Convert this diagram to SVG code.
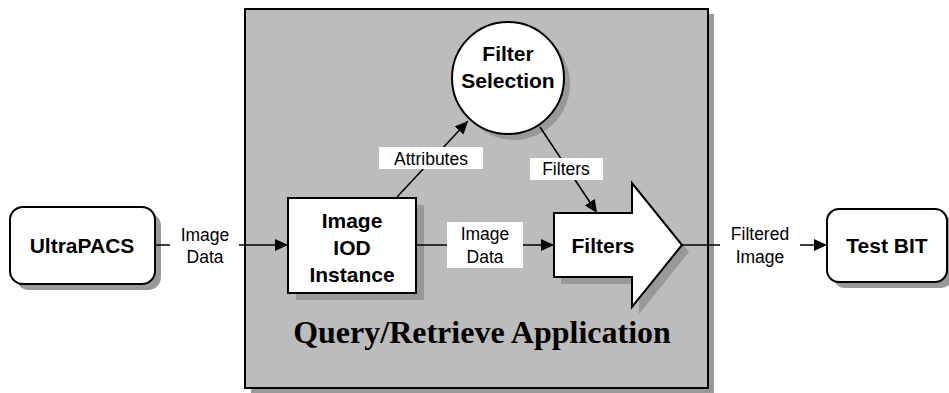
<svg xmlns="http://www.w3.org/2000/svg" width="949" height="393" viewBox="0 0 949 393">
<defs>
<marker id="ah" markerUnits="userSpaceOnUse" markerWidth="14" markerHeight="12" refX="13" refY="6" orient="auto">
<path d="M0,0 L13,6 L0,12 z" fill="#000"/>
</marker>
<style>
.node{fill:#fff;stroke:#000;stroke-width:2}
.sh{fill:#999;stroke:none}
.big{font-family:"Liberation Sans",Arial,sans-serif;font-weight:bold;font-size:21px;text-anchor:middle;fill:#000}
.lbl{font-family:"Liberation Sans",Arial,sans-serif;font-size:17.5px;text-anchor:middle;fill:#000}
.lb{fill:#fff;stroke:none}
.ln{stroke:#000;stroke-width:1.5;fill:none}
</style>
</defs>
<g id="app">
<rect x="251" y="14" width="463" height="380" fill="#999"/>
<rect x="245" y="9" width="463" height="379" fill="#bcbcbc" stroke="#000" stroke-width="2"/>
<text x="482" y="343" font-family="Liberation Serif,'Times New Roman',serif" font-weight="bold" font-size="32" text-anchor="middle">Query/Retrieve Application</text>
</g>
<g id="ultrapacs">
<rect class="sh" x="16" y="213" width="145" height="77" rx="13"/>
<rect class="node" x="10" y="207" width="145" height="77" rx="13"/>
<text class="big" x="82" y="252.5">UltraPACS</text>
</g>
<g id="iod">
<rect class="sh" x="296" y="205" width="128" height="95"/>
<rect class="node" x="288" y="198" width="128" height="95"/>
<text class="big" x="352" y="228">Image</text>
<text class="big" x="352" y="255">IOD</text>
<text class="big" x="352" y="282">Instance</text>
</g>
<g id="filtersel">
<circle class="sh" cx="514" cy="84" r="56"/>
<circle class="node" cx="508" cy="78" r="56"/>
<text class="big" x="508" y="60.5">Filter</text>
<text class="big" x="508" y="87.5">Selection</text>
</g>
<g id="filters">
<polygon class="sh" points="561,220 639,220 639,190 689,252 639,314 639,284 561,284"/>
<polygon class="node" points="554,213 632,213 632,183 682,245 632,307 632,277 554,277"/>
<text class="big" x="603" y="252.5">Filters</text>
</g>
<g id="testbit">
<rect class="sh" x="833" y="215" width="120" height="73" rx="12"/>
<rect class="node" x="827" y="209" width="120" height="73" rx="12"/>
<text class="big" x="887" y="252.5">Test BIT</text>
</g>
<g id="connectors">
<line class="ln" x1="155" y1="245" x2="170" y2="245"/>
<line class="ln" x1="239" y1="245" x2="288" y2="245" marker-end="url(#ah)"/>
<text class="lbl" x="205" y="241">Image</text>
<text class="lbl" x="205" y="263">Data</text>
<line class="ln" x1="416" y1="245" x2="554" y2="245" marker-end="url(#ah)"/>
<rect class="lb" x="447" y="222" width="76" height="46"/>
<text class="lbl" x="485" y="240">Image</text>
<text class="lbl" x="485" y="263">Data</text>
<line class="ln" x1="397" y1="197" x2="468" y2="121" marker-end="url(#ah)"/>
<rect class="lb" x="379" y="147" width="104" height="22"/>
<text class="lbl" x="431" y="165">Attributes</text>
<line class="ln" x1="540" y1="127" x2="597" y2="213" marker-end="url(#ah)"/>
<rect class="lb" x="530" y="158" width="73" height="22"/>
<text class="lbl" x="566" y="175">Filters</text>
<line class="ln" x1="682" y1="245" x2="720" y2="245"/>
<line class="ln" x1="800" y1="245" x2="827" y2="245" marker-end="url(#ah)"/>
<text class="lbl" x="760" y="240">Filtered</text>
<text class="lbl" x="760" y="263">Image</text>
</g>
</svg>
